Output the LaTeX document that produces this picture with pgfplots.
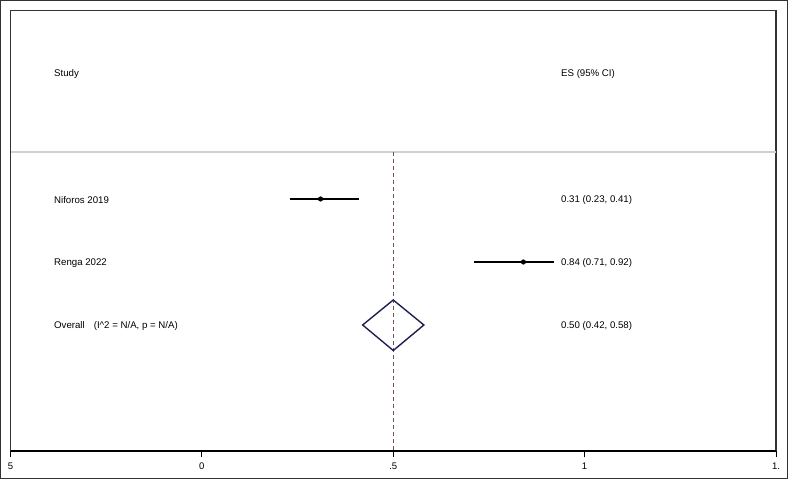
\documentclass[border=0pt]{standalone}
\usepackage{pgfplots}
\pgfplotsset{compat=1.18}
\usepackage{fontspec}
\setmainfont{Liberation Sans}
\definecolor{frame}{HTML}{333333}
\definecolor{sep}{HTML}{D0D0D0}
\definecolor{refline}{HTML}{6E5060}
\definecolor{diam}{HTML}{1E1E50}
\begin{document}
\begin{tikzpicture}[x=1bp,y=1bp]
\useasboundingbox (0,0) rectangle (788,479);
\begin{axis}[
  at={(10.5bp,28bp)}, anchor=south west,
  scale only axis, width=765.5bp, height=440.5bp,
  xmin=-0.5, xmax=1.5, ymin=10.5, ymax=451, y dir=reverse,
  axis line style={draw=none},
  clip=false,
  ytick=\empty,
  xtick={-0.5,0,0.5,1,1.5},
  xticklabels={5,0,.5,1,1.},
  xtick pos=bottom, tick align=outside,
  major tick length=6bp,
  every tick/.style={black, line width=0.8pt},
  xticklabel style={font=\fontsize{9.6}{11}\selectfont, yshift=-2.5bp},
  /pgf/number format/assume math mode=true,
]
% frame
\draw[frame, line width=1.1pt] (rel axis cs:0,0) -- (rel axis cs:0,1) -- (rel axis cs:1,1) -- (rel axis cs:1,0);
\draw[black, line width=1.5pt] (rel axis cs:0,0) -- (rel axis cs:1,0);
% separator
\addplot[sep, line width=1.2pt, forget plot] coordinates {(-0.5,152) (1.5,152)};
% reference line
\addplot[refline, line width=1.0pt, dash pattern=on 4bp off 3bp, forget plot] coordinates {(0.5,152) (0.5,450)};
% CIs
\addplot[black, line width=1.4pt, forget plot] coordinates {(0.23,199) (0.41,199)};
\addplot[black, line width=1.4pt, forget plot] coordinates {(0.71,262) (0.92,262)};
% point estimates
\addplot[only marks, mark=*, mark size=2.3bp, black, forget plot] coordinates {(0.31,199) (0.84,262)};
% overall diamond
\addplot[diam, line width=1.4pt, forget plot] coordinates {(0.42,325) (0.50,300) (0.58,325) (0.50,350.5) (0.42,325)} -- cycle;
% texts
\tikzset{lab/.style={anchor=west, inner sep=0pt, font=\fontsize{9.7}{11}\selectfont, yshift=-1bp}}
\node[lab] at (axis cs:-0.3864,73) {Study};
\node[lab] at (axis cs:0.9382,73) {ES (95\% CI)};
\node[lab] at (axis cs:-0.3864,199) {Niforos 2019};
\node[lab] at (axis cs:-0.3864,262) {Renga 2022};
\node[lab] at (axis cs:-0.3864,325) {Overall\hspace{9bp}(I\^{}2 = N/A, p = N/A)};
\node[lab] at (axis cs:0.9382,199) {0.31 (0.23, 0.41)};
\node[lab] at (axis cs:0.9382,262) {0.84 (0.71, 0.92)};
\node[lab] at (axis cs:0.9382,325) {0.50 (0.42, 0.58)};
\end{axis}
\draw[frame, line width=1.2pt] (0.6,0.6) rectangle (787.4,478.4);
\end{tikzpicture}
\end{document}
